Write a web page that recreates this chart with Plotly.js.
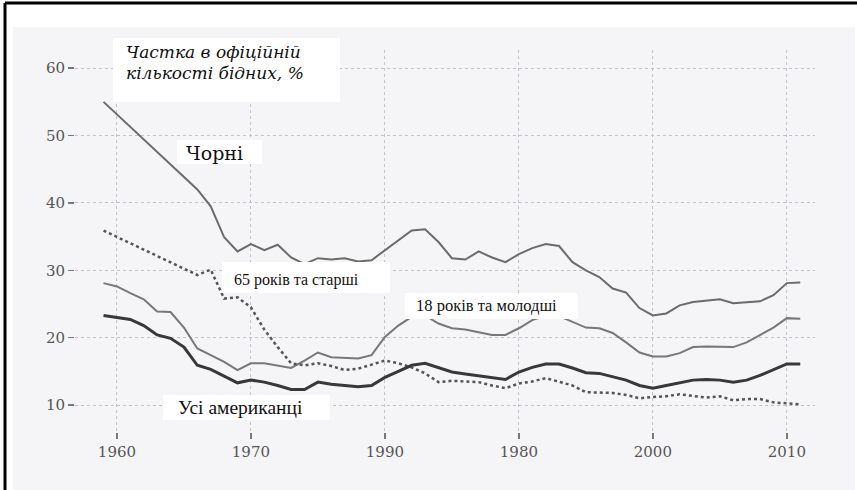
<!DOCTYPE html>
<html>
<head>
<meta charset="utf-8">
<script src="https://cdn.plot.ly/plotly-3.0.1.min.js"></script>
<style>html,body{margin:0;padding:0;background:#fff;}#chart{width:857px;height:490px;}</style>
</head>
<body>
<div id="chart"></div>
<script>
// ---- data ----
const years = [1959,1960,1961,1962,1963,1964,1965,1966,1967,1968,1969,
  1970,1971,1972,1973,1974,1975,1976,1977,1978,1979,
  1980,1981,1982,1983,1984,1985,1986,1987,1988,1989,
  1990,1991,1992,1993,1994,1995,1996,1997,1998,1999,
  2000,2001,2002,2003,2004,2005,2006,2007,2008,2009,2010,2011];

const black = [55.0,null,null,null,null,null,null,42.0,39.5,34.9,32.8,
  33.9,33.0,33.8,31.9,30.9,31.8,31.6,31.8,31.3,31.5,
  33.0,34.5,35.9,36.1,34.2,31.8,31.6,32.8,31.9,31.2,
  32.4,33.3,33.9,33.6,31.2,30.0,29.0,27.3,26.7,24.4,
  23.3,23.6,24.8,25.3,25.5,25.7,25.1,25.3,25.4,26.3,28.1,28.2];

const children = [28.1,27.6,26.6,25.7,23.9,23.8,21.5,18.4,17.4,16.4,15.2,
  16.2,16.2,15.9,15.5,16.6,17.8,17.1,17.0,16.9,17.4,
  20.1,21.8,23.1,23.3,22.1,21.4,21.2,20.8,20.4,20.4,
  21.4,22.6,23.3,23.2,22.3,21.5,21.4,20.7,19.3,17.8,
  17.2,17.2,17.7,18.6,18.7,18.6,18.6,19.3,20.4,21.5,22.9,22.8];

const allAmericans = [23.3,23.0,22.7,21.8,20.4,19.9,18.6,15.9,15.3,14.3,13.3,
  13.7,13.4,12.9,12.3,12.3,13.4,13.1,12.9,12.7,12.9,
  14.1,15.0,15.9,16.2,15.5,14.9,14.6,14.3,14.0,13.8,
  14.9,15.6,16.1,16.1,15.5,14.8,14.7,14.2,13.7,12.9,
  12.5,12.9,13.3,13.7,13.8,13.7,13.4,13.7,14.4,15.3,16.1,16.1];

const elderly = [35.9,null,null,null,null,null,null,29.3,30.1,25.8,26.0,
  24.5,21.2,18.6,16.2,15.9,16.2,15.8,15.2,15.4,16.0,
  16.6,16.2,15.6,14.7,13.4,13.6,13.5,13.4,12.9,12.5,
  13.2,13.5,14.0,13.4,12.9,11.9,11.9,11.8,11.5,11.0,
  11.2,11.3,11.6,11.3,11.1,11.3,10.7,10.9,10.9,10.4,10.3,10.1];

const xTickVals = [1960,1970,1980,1990,2000,2010];
const xTickText = ['1960','1970','1990','1980','2000','2010'];
const yTickVals = [10,20,30,40,50,60];
const yTickText = ['10','20','30','40','50','60'];

const titleLines = ['Частка в офіційній','кількості бідних, %'];
const labelBlack = 'Чорні';
const labelElderly = '65 років та старші';
const labelChildren = '18 років та молодші';
const labelAll = 'Усі американці';

// ---- layout helpers (pixel -> paper) ----
const L = 75, R = 815, T = 50, B = 432, W = 857, H = 490;
const px = x => (x - L) / (R - L);
const py = y => (B - y) / (B - T);

function rect(x0, y0, x1, y1, color, layer) {
  return {type:'rect', xref:'paper', yref:'paper', x0:px(x0), x1:px(x1), y0:py(y1), y1:py(y0),
    fillcolor:color, line:{width:0}, layer:layer};
}
function label(text, x, y, font) {
  return {xref:'paper', yref:'paper', x:px(x), y:py(y), xanchor:'left', yanchor:'middle',
    text:text, showarrow:false, font:Object.assign({family:'Liberation Serif, serif', color:'#111'}, font)};
}

const traces = [
  {x:years, y:black, mode:'lines', connectgaps:true, line:{color:'#6b6b6b', width:2}, hoverinfo:'skip'},
  {x:years, y:children, mode:'lines', line:{color:'#777777', width:2}, hoverinfo:'skip'},
  {x:years, y:elderly, mode:'lines', connectgaps:true, line:{color:'#555555', width:2.5, dash:'dot'}, hoverinfo:'skip'},
  {x:years, y:allAmericans, mode:'lines', line:{color:'#383838', width:3}, hoverinfo:'skip'}
];

const layout = {
  width:W, height:H,
  margin:{l:L, r:W-R, t:T, b:H-B, pad:0},
  paper_bgcolor:'#ffffff', plot_bgcolor:'rgba(0,0,0,0)',
  showlegend:false,
  xaxis:{range:[1956.87, 2012.1], tickvals:xTickVals, ticktext:xTickText,
    showgrid:true, gridcolor:'#c2c2c8', griddash:'dot', gridwidth:1,
    zeroline:false, showline:false, ticks:'outside', ticklen:6, tickwidth:2, tickcolor:'#777',
    tickfont:{family:'DejaVu Serif, serif', size:15, color:'#555'}, fixedrange:true},
  yaxis:{range:[6.0, 62.7], tickvals:yTickVals, ticktext:yTickText,
    showgrid:true, gridcolor:'#c2c2c8', griddash:'dot', gridwidth:1,
    zeroline:false, showline:false, ticks:'outside', ticklen:6, tickwidth:1.5, tickcolor:'#777',
    tickfont:{family:'DejaVu Serif, serif', size:15, color:'#555'}, fixedrange:true},
  shapes:[
    rect(13, 27, 855, 490, '#f5f5f7', 'below'),
    {type:'line', xref:'paper', yref:'paper', x0:px(5), x1:px(857), y0:py(3), y1:py(3), line:{color:'#000', width:3}, layer:'above'},
    {type:'line', xref:'paper', yref:'paper', x0:px(5), x1:px(5), y0:py(3), y1:py(490), line:{color:'#000', width:3}, layer:'above'},
    rect(113, 38, 340, 102, '#ffffff', 'above'),
    rect(177, 140, 262, 164, '#ffffff', 'above'),
    rect(222, 262, 390, 293, '#ffffff', 'above'),
    rect(405, 293, 578, 319, '#ffffff', 'above'),
    rect(163, 395, 330, 420, '#ffffff', 'above')
  ],
  annotations:[
    label(titleLines[0], 124, 52, {family:'DejaVu Serif, serif', size:17, style:'italic'}),
    label(titleLines[1], 124, 73, {family:'DejaVu Serif, serif', size:17, style:'italic'}),
    label(labelBlack, 184, 153, {family:'DejaVu Serif, serif', size:19}),
    label(labelElderly, 232, 280, {size:16}),
    label(labelChildren, 414, 305, {size:16.5}),
    label(labelAll, 176, 407, {size:19.5})
  ]
};

Plotly.newPlot('chart', traces, layout, {displayModeBar:false, staticPlot:true});
</script>
</body>
</html>
